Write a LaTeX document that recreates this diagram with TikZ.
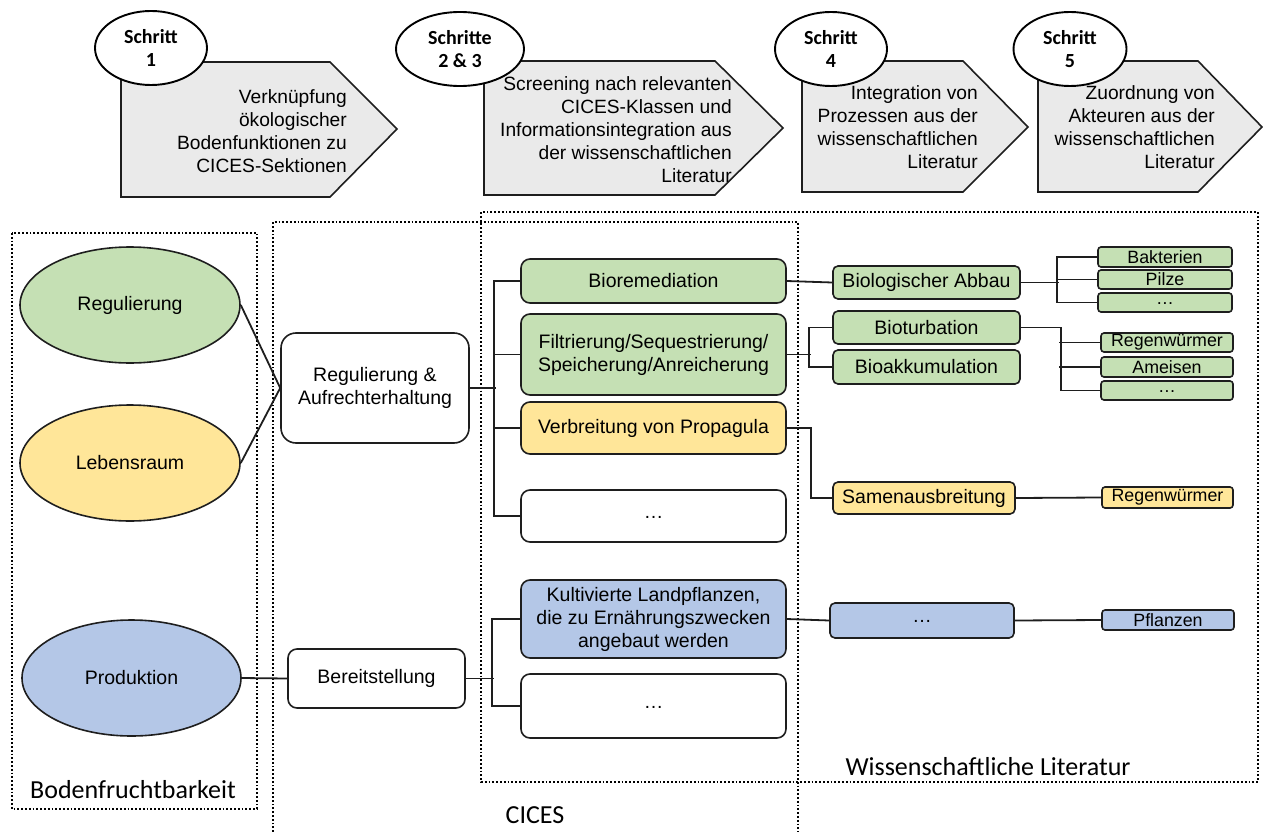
\documentclass[tikz,border=0pt]{standalone}
\usepackage{fontspec}
\setmainfont{Liberation Sans}
\newfontfamily\calfont{Carlito}
\usetikzlibrary{shapes.geometric}
\definecolor{cgreen}{HTML}{C5E0B4}
\definecolor{cyellow}{HTML}{FFE699}
\definecolor{cblue}{HTML}{B4C7E7}
\definecolor{cgray}{HTML}{EAEAEA}
\definecolor{cline}{HTML}{1E1E1E}
\begin{document}
\begin{tikzpicture}[x=1pt,y=-1pt,
  frame/.style={dotted, line width=1.8pt},
  conn/.style={draw=cline, line width=1.8pt},
  box/.style={draw=cline, line width=1.6pt, rectangle, rounded corners=9pt, align=center, inner sep=0pt, font=\fontsize{19.5}{23}\selectfont},
  midbox/.style={box, rounded corners=5pt},
  smallbox/.style={box, rounded corners=3pt, font=\fontsize{17.8}{19}\selectfont},
  fellipse/.style={draw=cline, line width=1.6pt, ellipse, minimum width=220pt, minimum height=116pt, inner sep=0pt, font=\fontsize{19.5}{23}\selectfont},
  stepshape/.style={draw=cline, line width=1.6pt, fill=cgray},
  steptext/.style={anchor=east, align=right, inner sep=0pt, font=\fontsize{19.2}{23}\selectfont},
  stepoval/.style={draw=black, line width=1.9pt, fill=white, ellipse, inner sep=0pt, minimum height=74pt, align=center, font=\calfont\bfseries\fontsize{20}{23}\selectfont},
  lab/.style={inner sep=0pt, font=\calfont\fontsize{26}{30}\selectfont}
]
\useasboundingbox (0,0) rectangle (1263,832);

% frames
\draw[frame] (12,233) rectangle (257,809);
\draw[frame] (273,832) -- (273,222) -- (798,222) -- (798,832);
\draw[frame] (481,212) rectangle (1258,782);
\node[lab] (lboden) at (133,790) {Bodenfruchtbarkeit};
\node[lab] (lcices) at (535,815) {CICES};
\node[lab] (llit) at (988,767) {Wissenschaftliche Literatur};

% steps
\draw[stepshape] (121,62) -- (330,62) -- (397,129) -- (330,197) -- (121,197) -- cycle;
\node[steptext] (t1) at (347,131) {Verknüpfung\\ökologischer\\Bodenfunktionen zu\\CICES-Sektionen};
\draw[stepshape] (484,61) -- (715,61) -- (783,128) -- (715,195) -- (484,195) -- cycle;
\node[steptext] (t2) at (732,129.5) {Screening nach relevanten\\CICES-Klassen und\\Informationsintegration aus\\der wissenschaftlichen\\Literatur};
\draw[stepshape] (802,61) -- (963,61) -- (1028,127) -- (963,192) -- (802,192) -- cycle;
\node[steptext] (t4) at (978,127.5) {Integration von\\Prozessen aus der\\wissenschaftlichen\\Literatur};
\draw[stepshape] (1038,61) -- (1198,61) -- (1262,127) -- (1198,192) -- (1038,192) -- cycle;
\node[steptext] (t5) at (1215,127.5) {Zuordnung von\\Akteuren aus der\\wissenschaftlichen\\Literatur};

\node[stepoval, minimum width=112pt] (e1) at (151,48) {Schritt\\1};
\node[stepoval, minimum width=128pt] (e2) at (460,49) {Schritte\\2 \& 3};
\node[stepoval, minimum width=112pt] (e4) at (831,49) {Schritt\\4};
\node[stepoval, minimum width=113pt] (e5) at (1070,49) {Schritt\\5};

% left ellipses
\node[fellipse, fill=cgreen] (reg) at (130,305) {Regulierung};
\node[fellipse, fill=cyellow] (leb) at (130,463) {Lebensraum};
\node[fellipse, fill=cblue, minimum width=219pt] (prod) at (131.5,678) {Produktion};

% CICES sections
\node[box, rounded corners=15pt, fill=white, minimum width=188pt, minimum height=110pt] (rab) at (375,388) {Regulierung \&\\Aufrechterhaltung};
\node[box, fill=white, minimum width=177pt, minimum height=59pt] (bereit) at (376.5,678.5) {Bereitstellung};

% CICES classes
\node[box, fill=cgreen, minimum width=265pt, minimum height=44pt] (biorem) at (653.5,281) {Bioremediation};
\node[box, fill=cgreen, minimum width=265pt, minimum height=81pt] (filt) at (653.5,354.5) {Filtrierung/Sequestrierung/\\Speicherung/Anreicherung};
\node[box, fill=cyellow, minimum width=265pt, minimum height=52pt] (verb) at (653.5,428) {Verbreitung von Propagula};
\node[box, fill=white, minimum width=265pt, minimum height=52pt] (dots1) at (653.5,516) {\raisebox{-4pt}{…}};
\node[box, fill=cblue, minimum width=265pt, minimum height=78pt] (kult) at (653.5,619) {Kultivierte Landpflanzen,\\die zu Ernährungszwecken\\angebaut werden};
\node[box, fill=white, minimum width=265pt, minimum height=64pt] (dots2) at (653.5,706) {\raisebox{-4pt}{…}};

% processes
\node[midbox, fill=cgreen, minimum width=187pt, minimum height=33pt] (abbau) at (926.5,282.5) {Biologischer Abbau};
\node[midbox, fill=cgreen, minimum width=187pt, minimum height=33pt] (bioturb) at (926.5,327.5) {Bioturbation};
\node[midbox, fill=cgreen, minimum width=187pt, minimum height=34pt] (bioakk) at (926.5,367) {Bioakkumulation};
\node[midbox, fill=cyellow, minimum width=182pt, minimum height=32pt] (samen) at (924,498) {Samenausbreitung};
\node[midbox, fill=cblue, minimum width=184pt, minimum height=35pt] (dotsb) at (922,620.5) {\raisebox{-4pt}{…}};

% actors
\node[smallbox, fill=cgreen, minimum width=134pt, minimum height=20pt] (bakt) at (1165,257) {Bakterien};
\node[smallbox, fill=cgreen, minimum width=134pt, minimum height=19pt] (pilze) at (1165,279.5) {Pilze};
\node[smallbox, fill=cgreen, minimum width=134pt, minimum height=19pt] (dotsg1) at (1165,302.5) {\raisebox{-3pt}{…}};
\node[smallbox, fill=cgreen, minimum width=132pt, minimum height=19pt] (regen1) at (1167,342.5) {Regenwürmer};
\node[smallbox, fill=cgreen, minimum width=132pt, minimum height=20pt] (ameisen) at (1167,367) {Ameisen};
\node[smallbox, fill=cgreen, minimum width=132pt, minimum height=19pt] (dotsg2) at (1167,390.5) {\raisebox{-3pt}{…}};
\node[smallbox, fill=cyellow, minimum width=131pt, minimum height=21pt] (regen2) at (1167.5,497.5) {Regenwürmer};
\node[smallbox, fill=cblue, minimum width=132pt, minimum height=20pt] (pflanzen) at (1168,620) {Pflanzen};

% connectors
\draw[conn] (reg.east) -- (rab.west);
\draw[conn] (leb.east) -- (rab.west);
\draw[conn] (prod.east) -- (bereit.west);

\draw[conn] (rab.east) -- ++(26,0);
\draw[conn] (biorem.west) -- ++(-26,0) |- (dots1.west);
\draw[conn] (filt.west) -- ++(-26,0);
\draw[conn] (verb.west) -- ++(-26,0);

\draw[conn] (bereit.east) -- ++(28,0);
\draw[conn] (kult.west) -- ++(-28,0) |- (dots2.west);

\draw[conn] (biorem.east) -- (abbau.west);
\draw[conn] (filt.east) -- ++(24,0);
\draw[conn] (bioturb.west) -- ++(-23,0) |- (bioakk.west);
\draw[conn] (verb.east) -- ++(24,0) |- (samen.west);
\draw[conn] (kult.east) -- (dotsb.west);

\draw[conn] (abbau.east) -- ++(38,0);
\draw[conn] (bakt.west) -- ++(-40,0) |- (dotsg1.west);
\draw[conn] (pilze.west) -- ++(-40,0);
\draw[conn] (bioturb.east) -- ++(40,0) |- (dotsg2.west);
\draw[conn] (regen1.west) -- ++(-41,0);
\draw[conn] (ameisen.west) -- ++(-41,0);
\draw[conn] (samen.east) -- (regen2.west);
\draw[conn] (dotsb.east) -- (pflanzen.west);
\end{tikzpicture}
\end{document}
